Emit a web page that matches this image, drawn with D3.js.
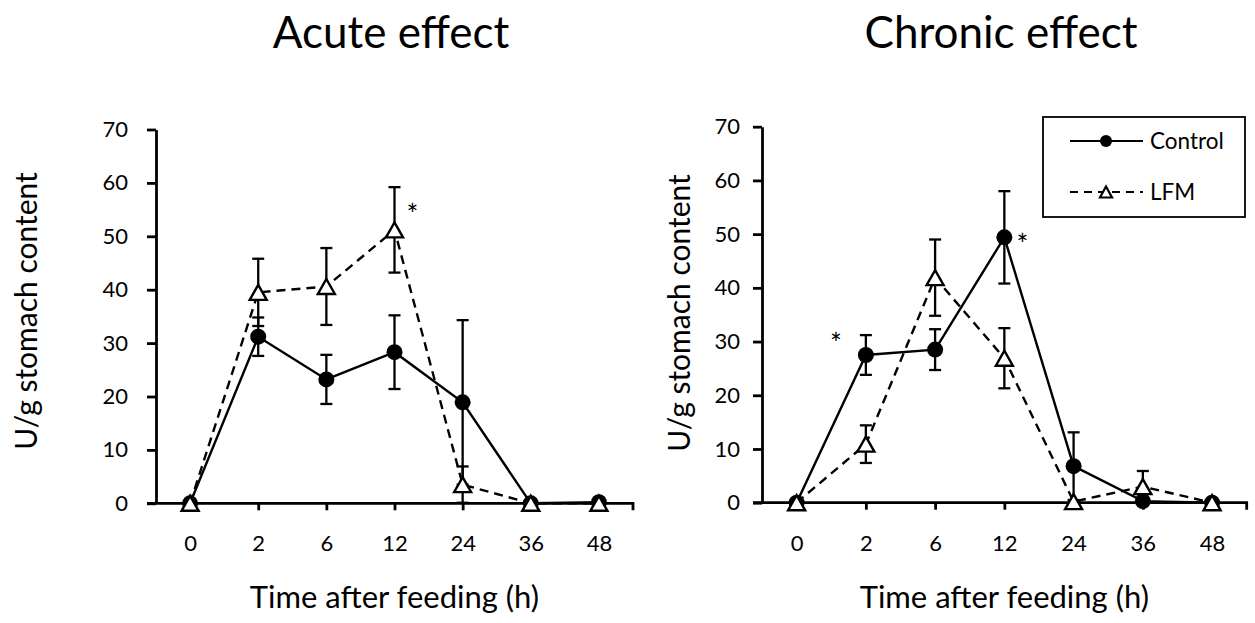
<!DOCTYPE html>
<html>
<head>
<meta charset="utf-8">
<script src="https://cdn.jsdelivr.net/npm/d3@7"></script>
<style>
  html, body { margin: 0; padding: 0; background: #fff; }
  svg { display: block; font-family: Lato, "Open Sans", sans-serif; }
</style>
</head>
<body>
<svg id="chart" width="1255" height="623"></svg>
<script>
// Sampling times after feeding (h), shown as evenly spaced categories
const times = ["0", "2", "6", "12", "24", "36", "48"];
const yTicks = [0, 10, 20, 30, 40, 50, 60, 70];

// Acute effect: means and error (U/g stomach content)
const acuteControl    = [0, 31.2, 23.2, 28.3, 18.9, 0, 0.2];
const acuteControlErr = [0, 3.6, 4.6, 6.9, 15.4, 0, 0];
const acuteLFM        = [0, 39.5, 40.6, 51.2, 3.5, 0, 0];
const acuteLFMErr     = [0, 6.3, 7.2, 8.0, 3.4, 0, 0];
const acuteStars      = [{ time: "12", value: 55 }];

// Chronic effect
const chronicControl    = [0, 27.5, 28.5, 49.4, 6.8, 0.3, 0];
const chronicControlErr = [0, 3.7, 3.8, 8.6, 6.3, 0, 0];
const chronicLFM        = [0, 10.9, 41.9, 26.9, 0.2, 3.0, 0];
const chronicLFMErr     = [0, 3.5, 7.1, 5.6, 0, 2.9, 0];
const chronicStars      = [{ time: "2", value: 30.4 }, { time: "12", value: 49 }];

const seriesNames = ["Control", "LFM"];

const svg = d3.select("#chart");

function trianglePath(w, h) {
  return `M0,${-h / 2}L${w / 2},${h / 2}L${-w / 2},${h / 2}Z`;
}

function drawPanel(opt) {
  const x = d3.scalePoint().domain(times).range([opt.x0, opt.x1]).padding(0.5);
  const y = d3.scaleLinear().domain([0, 70]).range([opt.yBottom, opt.yTop]);
  const g = svg.append("g");

  // Title
  g.append("text")
    .attr("x", opt.titleX).attr("y", 48)
    .attr("text-anchor", "middle")
    .style("font-size", "44px")
    .text(opt.title);

  // Y axis
  const yAxis = g.append("g")
    .attr("transform", `translate(${opt.x0},0)`)
    .call(d3.axisLeft(y).tickValues(yTicks).tickSize(9).tickSizeOuter(0).tickPadding(opt.yPad));
  yAxis.select(".domain").attr("stroke", "#000").attr("stroke-width", 2.8);
  yAxis.selectAll(".tick line").attr("stroke", "#000").attr("stroke-width", 2.8);
  yAxis.selectAll(".tick text").attr("fill", "#000")
    .style("font-size", "22px").style("font-family", "Lato, sans-serif");

  // X axis
  const xAxis = g.append("g")
    .attr("transform", `translate(0,${opt.yBottom})`)
    .call(d3.axisBottom(x).tickSize(7).tickSizeOuter(0));
  xAxis.select(".domain").attr("stroke", "#000").attr("stroke-width", 2.8)
    .attr("d", `M${opt.x0 - 9},0H${opt.x1}V7`);
  xAxis.selectAll(".tick line").attr("stroke", "#000").attr("stroke-width", 2.8);
  xAxis.selectAll(".tick text").attr("fill", "#000")
    .attr("dy", null).attr("y", 48)
    .style("font-size", "22px").style("font-family", "Lato, sans-serif");

  // Axis titles
  g.append("text")
    .attr("x", (opt.x0 + opt.x1) / 2).attr("y", 608)
    .attr("text-anchor", "middle")
    .style("font-size", "31px")
    .text("Time after feeding (h)");
  g.append("text")
    .attr("transform", `translate(${opt.yTitleX},${opt.yTitleY}) rotate(-90)`)
    .attr("text-anchor", "middle")
    .style("font-size", "30px")
    .text("U/g stomach content");

  const series = [
    { name: seriesNames[0], values: opt.control, err: opt.controlErr, dash: null, marker: "circle" },
    { name: seriesNames[1], values: opt.lfm, err: opt.lfmErr, dash: "9,6", marker: "triangle" }
  ];

  const line = d3.line()
    .x((d, i) => x(times[i]))
    .y(d => y(d));

  series.forEach(s => {
    const sg = g.append("g");
    // Error bars
    const eb = sg.selectAll(".err")
      .data(s.values.map((v, i) => ({ t: times[i], v, e: s.err[i] })).filter(d => d.e > 0))
      .join("g");
    eb.append("line")
      .attr("x1", d => x(d.t)).attr("x2", d => x(d.t))
      .attr("y1", d => y(d.v + d.e)).attr("y2", d => y(Math.max(0, d.v - d.e)))
      .attr("stroke", "#000").attr("stroke-width", 2.3);
    eb.append("line")
      .attr("x1", d => x(d.t) - 6).attr("x2", d => x(d.t) + 6)
      .attr("y1", d => y(d.v + d.e)).attr("y2", d => y(d.v + d.e))
      .attr("stroke", "#000").attr("stroke-width", 2.3);
    eb.filter(d => d.v - d.e > 0).append("line")
      .attr("x1", d => x(d.t) - 6).attr("x2", d => x(d.t) + 6)
      .attr("y1", d => y(d.v - d.e)).attr("y2", d => y(d.v - d.e))
      .attr("stroke", "#000").attr("stroke-width", 2.3);

    // Connecting line
    sg.append("path")
      .datum(s.values)
      .attr("d", line)
      .attr("fill", "none")
      .attr("stroke", "#000")
      .attr("stroke-width", 2.4)
      .attr("stroke-dasharray", s.dash);

    // Markers
    if (s.marker === "circle") {
      sg.selectAll(".pt").data(s.values).join("circle")
        .attr("cx", (d, i) => x(times[i])).attr("cy", d => y(d))
        .attr("r", 8).attr("fill", "#000");
    } else {
      sg.selectAll(".pt").data(s.values).join("path")
        .attr("transform", (d, i) => `translate(${x(times[i])},${y(d)})`)
        .attr("d", trianglePath(17, 15))
        .attr("fill", "#fff").attr("stroke", "#000").attr("stroke-width", 2.4)
        .attr("stroke-linejoin", "miter");
    }
  });

  // Significance marks
  g.selectAll(".star").data(opt.stars).join("text")
    .attr("x", d => x(d.time) + (d.time === "2" ? -30 : 18))
    .attr("y", d => y(d.value) + 15)
    .attr("text-anchor", "middle")
    .style("font-size", "28px")
    .text("*");

  return { x, y };
}

drawPanel({
  title: "Acute effect", titleX: 391,
  x0: 156, x1: 633, yTop: 129.5, yBottom: 503.3, yPad: 19,
  yTitleX: 37, yTitleY: 311,
  control: acuteControl, controlErr: acuteControlErr,
  lfm: acuteLFM, lfmErr: acuteLFMErr, stars: acuteStars
});

drawPanel({
  title: "Chronic effect", titleX: 1001,
  x0: 762, x1: 1246.7, yTop: 126.7, yBottom: 502.7, yPad: 13,
  yTitleX: 690, yTitleY: 313,
  control: chronicControl, controlErr: chronicControlErr,
  lfm: chronicLFM, lfmErr: chronicLFMErr, stars: chronicStars
});

// Legend
const legend = svg.append("g");
legend.append("rect")
  .attr("x", 1043).attr("y", 117).attr("width", 202).attr("height", 100)
  .attr("fill", "#fff").attr("stroke", "#000").attr("stroke-width", 1.8);
const legendRows = [
  { name: seriesNames[0], y: 141, dash: null, marker: "circle" },
  { name: seriesNames[1], y: 192, dash: "8,6", marker: "triangle" }
];
legendRows.forEach(r => {
  legend.append("line")
    .attr("x1", 1070).attr("x2", 1143).attr("y1", r.y).attr("y2", r.y)
    .attr("stroke", "#000").attr("stroke-width", 2.2).attr("stroke-dasharray", r.dash);
  if (r.marker === "circle") {
    legend.append("circle").attr("cx", 1106).attr("cy", r.y).attr("r", 6).attr("fill", "#000");
  } else {
    legend.append("path").attr("transform", `translate(1106,${r.y})`)
      .attr("d", trianglePath(12, 11))
      .attr("fill", "#fff").attr("stroke", "#000").attr("stroke-width", 2.2);
  }
  legend.append("text")
    .attr("x", 1150).attr("y", r.y + 8)
    .style("font-size", "22.5px")
    .text(r.name);
});
</script>
</body>
</html>
